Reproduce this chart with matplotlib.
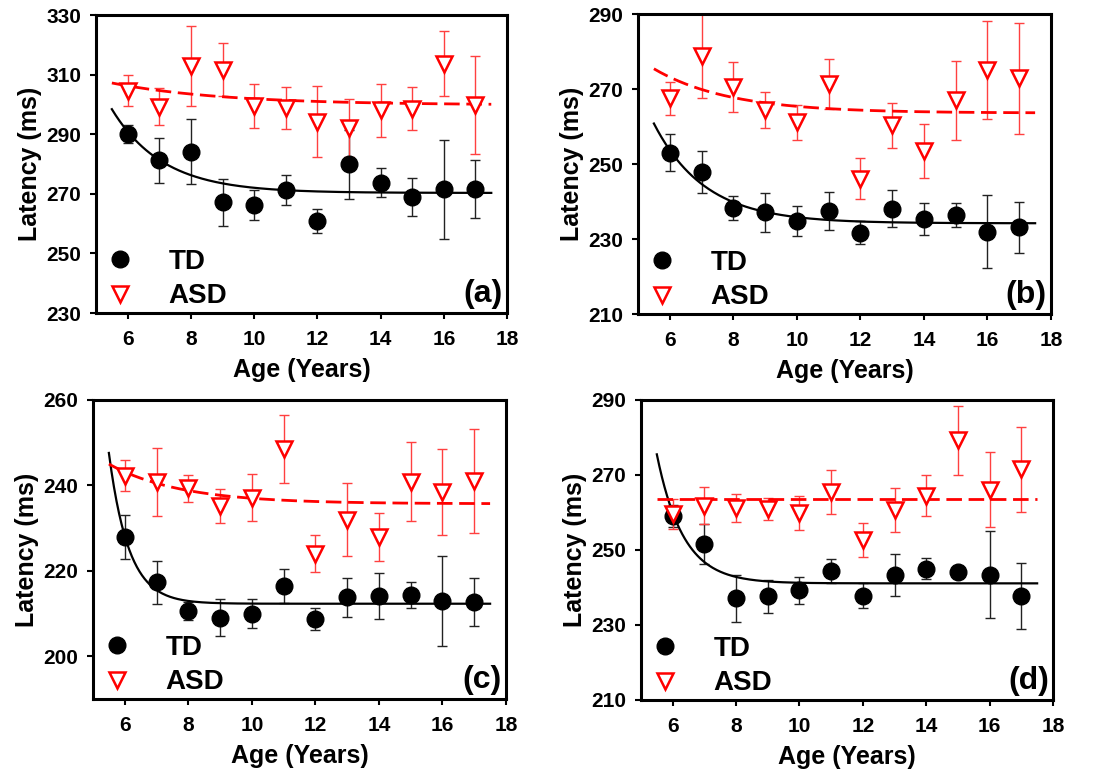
import numpy as np
import matplotlib
matplotlib.use("Agg")
import matplotlib.pyplot as plt

plt.rcParams['font.family'] = ['Liberation Sans', 'DejaVu Sans']
plt.rcParams['font.weight'] = 'bold'

ages = [6, 7, 8, 9, 10, 11, 12, 13, 14, 15, 16, 17]
xticks = [6, 8, 10, 12, 14, 16, 18]

# Panel (a)
a_td = [290.0, 281.2, 284.2, 267.2, 266.2, 271.2, 260.8, 279.9, 273.8, 269.0, 271.6, 271.6]
a_td_err = [3.1, 7.5, 10.9, 7.9, 5.1, 5.1, 4.0, 11.5, 5.0, 6.3, 16.6, 9.6]
a_asd = [304.6, 299.2, 312.8, 311.6, 299.6, 298.9, 294.2, 292.1, 298.1, 298.6, 313.6, 299.9]
a_asd_err = [5.2, 6.2, 13.4, 8.9, 7.4, 7.1, 12.0, 9.6, 8.9, 7.1, 10.9, 16.4]

# Panel (b)
b_td = [253.0, 247.8, 238.3, 237.2, 234.8, 237.5, 231.7, 238.1, 235.4, 236.4, 232.0, 233.2]
b_td_err = [4.9, 5.6, 3.3, 5.2, 4.1, 5.1, 3.0, 4.9, 4.3, 3.2, 9.7, 6.8]
b_asd = [267.5, 278.7, 270.5, 264.5, 261.1, 271.3, 246.1, 260.4, 253.5, 267.0, 275.1, 272.9]
b_asd_err = [4.3, 11.2, 6.7, 4.8, 4.6, 6.6, 5.5, 6.0, 7.2, 10.5, 13.1, 14.8]

# Panel (c)
c_td = [227.9, 217.3, 210.6, 209.0, 210.0, 216.4, 208.7, 213.8, 214.1, 214.4, 212.9, 212.7]
c_td_err = [5.2, 5.0, 2.0, 4.3, 3.3, 4.0, 2.5, 4.6, 5.3, 3.1, 10.5, 5.6]
c_asd = [242.3, 240.8, 239.3, 235.2, 237.1, 248.6, 224.0, 232.0, 227.9, 240.9, 238.4, 241.1]
c_asd_err = [3.6, 7.9, 3.2, 3.9, 5.5, 8.0, 4.3, 8.6, 5.6, 9.2, 10.1, 12.2]

# Panel (d)
d_td = [259.0, 251.6, 237.1, 237.7, 239.3, 244.3, 237.8, 243.2, 245.0, 244.2, 243.4, 237.6]
d_td_err = [3.0, 5.3, 6.2, 4.4, 3.6, 3.2, 3.3, 5.6, 2.8, 1.5, 11.6, 8.8]
d_asd = [259.5, 261.8, 261.2, 261.0, 259.8, 265.4, 252.6, 260.6, 264.5, 279.2, 266.1, 271.5]
d_asd_err = [4.0, 5.0, 3.8, 2.9, 4.5, 5.8, 4.5, 5.9, 5.5, 9.3, 9.9, 11.4]

# Exponential fit parameters: (asymptote, amplitude, rate), curve = asym + amp*exp(-rate*(age-5.5))
a_fit_td = (270.3, 28.1, 0.62)
a_fit_asd = (299.8, 7.4, 0.28)
b_fit_td = (234.2, 26.6, 0.62)
b_fit_asd = (263.6, 11.8, 0.42)
c_fit_td = (212.3, 35.3, 1.6)
c_fit_asd = (235.7, 9.3, 0.44)
d_fit_td = (241.1, 34.4, 1.2)
d_fit_asd = (263.6, 0.0, 0.0)

fit_range = (5.5, 17.5)

panels = [
    dict(label='(a)', td=a_td, tde=a_td_err, asd=a_asd, asde=a_asd_err,
         ftd=a_fit_td, fasd=a_fit_asd, ylim=(230, 330), yticks=[230, 250, 270, 290, 310, 330],
         pos=[0.0878, 0.5961, 0.3757, 0.3845]),
    dict(label='(b)', td=b_td, tde=b_td_err, asd=b_asd, asde=b_asd_err,
         ftd=b_fit_td, fasd=b_fit_asd, ylim=(210, 290), yticks=[210, 230, 250, 270, 290],
         pos=[0.5832, 0.5948, 0.3775, 0.3871]),
    dict(label='(c)', td=c_td, tde=c_td_err, asd=c_asd, asde=c_asd_err,
         ftd=c_fit_td, fasd=c_fit_asd, ylim=(190, 260), yticks=[200, 220, 240, 260],
         pos=[0.0850, 0.0981, 0.3775, 0.3858]),
    dict(label='(d)', td=d_td, tde=d_td_err, asd=d_asd, asde=d_asd_err,
         ftd=d_fit_td, fasd=d_fit_asd, ylim=(210, 290), yticks=[210, 230, 250, 270, 290],
         pos=[0.5859, 0.0968, 0.3766, 0.3871]),
]

fig = plt.figure(figsize=(10.94, 7.75), dpi=100)
xs = np.linspace(fit_range[0], fit_range[1], 300)

for p in panels:
    ax = fig.add_axes(p['pos'])
    # error bars
    ax.errorbar(ages, p['td'], yerr=p['tde'], fmt='none', ecolor='#222222',
                elinewidth=1.0, capsize=3.5, capthick=1.0, zorder=2)
    ax.errorbar(ages, p['asd'], yerr=p['asde'], fmt='none', ecolor='#ff4040',
                elinewidth=1.0, capsize=3.5, capthick=1.0, zorder=2)
    # fitted curves
    asym, amp, rate = p['ftd']
    ax.plot(xs, asym + amp * np.exp(-rate * (xs - fit_range[0])), color='black', lw=1.6, zorder=3)
    asym, amp, rate = p['fasd']
    ax.plot(xs, asym + amp * np.exp(-rate * (xs - fit_range[0])), color='red', lw=2.0,
            dashes=(5.6, 2.4), zorder=3)
    # markers
    h_td, = ax.plot(ages, p['td'], linestyle='none', marker='o', markersize=12,
                    markerfacecolor='black', markeredgecolor='black', zorder=4)
    h_asd, = ax.plot(ages, p['asd'], linestyle='none', marker='v', markersize=11.5,
                     markerfacecolor='white', markeredgecolor='red', markeredgewidth=1.8, zorder=5)
    ax.set_xlim(5, 18)
    ax.set_ylim(*p['ylim'])
    ax.set_xticks(xticks)
    ax.set_yticks(p['yticks'])
    for s in ax.spines.values():
        s.set_linewidth(2.2)
    ax.tick_params(axis='both', direction='out', length=4.5, width=1.5, labelsize=15, pad=6)
    ax.tick_params(axis='x', pad=8)
    for t in ax.get_xticklabels() + ax.get_yticklabels():
        t.set_fontweight('bold')
    ax.set_xlabel('Age (Years)', fontsize=18, fontweight='bold', labelpad=6)
    ax.set_ylabel('Latency (ms)', fontsize=18, fontweight='bold', labelpad=3)
    ax.legend([h_td, h_asd], ['TD', 'ASD'], loc='lower left', bbox_to_anchor=(0.028, 0.012),
              frameon=False, borderaxespad=0, borderpad=0, handlelength=0.9,
              handletextpad=1.3, labelspacing=0.3, prop={'size': 20, 'weight': 'bold'})
    ax.text(0.99, 0.012, p['label'], transform=ax.transAxes, ha='right', va='bottom',
            fontsize=23, fontweight='bold')

fig.savefig('out.png', dpi=100)
